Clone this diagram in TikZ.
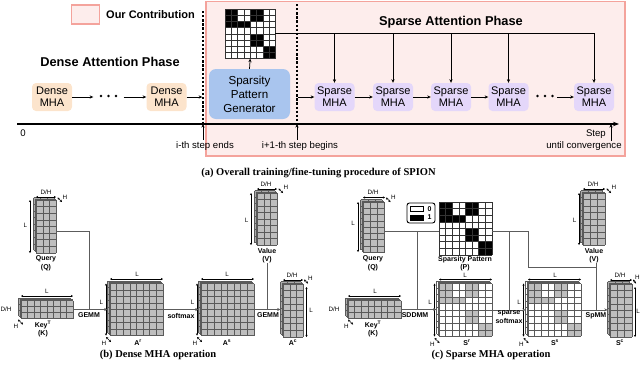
\documentclass[tikz,border=0pt]{standalone}
\usepackage{fontspec}
\setmainfont{Liberation Sans}
\newfontfamily\capfont{Liberation Serif}
\usetikzlibrary{arrows.meta}
\definecolor{pinkfill}{HTML}{FDEDEC}
\definecolor{pinkline}{HTML}{F4A39C}
\definecolor{densefill}{HTML}{FCE4CC}
\definecolor{sparsefill}{HTML}{E4D7FA}
\definecolor{genfill}{HTML}{A9C5EE}
\definecolor{cellgray}{HTML}{BEBEBE}
\definecolor{backgray}{HTML}{ACACAC}
\definecolor{gridgray}{HTML}{5A5A5A}
\definecolor{connc}{HTML}{5C5C5C}
\def\Pattern{0/0,1/0,4/0,5/0,0/1,1/1,4/1,5/1,0/2,1/2,2/2,3/2,4/4,5/4,4/5,5/5,6/6,7/6,6/7,7/7}
\newcommand\GridLines[7]{%
  \foreach \gi in {0,...,#3}{\draw[#7] ({#1+\gi*#5},{#2}) -- ({#1+\gi*#5},{#2+#4*#6});}
  \foreach \gj in {0,...,#4}{\draw[#7] ({#1},{#2+\gj*#6}) -- ({#1+#3*#5},{#2+\gj*#6});}
}
\newcommand\MatCoords[7]{%
  \coordinate (#1-w) at ({#2},{#3+#5*#7/2});
  \coordinate (#1-e) at ({#2+#4*#6},{#3+#5*#7/2});
  \coordinate (#1-n) at ({#2+#4*#6/2},{#3});
  \coordinate (#1-s) at ({#2+#4*#6/2},{#3+#5*#7});
}
\newcommand\DenseMat[7]{%
  \foreach \k in {2,1}{%
    \fill[backgray] ({#2-1.2*\k},{#3-1.2*\k}) rectangle ++({#4*#6},{#5*#7});
    \GridLines{#2-1.2*\k}{#3-1.2*\k}{#4}{#5}{#6}{#7}{gridln}
  }
  \fill[cellgray] ({#2},{#3}) rectangle ++({#4*#6},{#5*#7});
  \GridLines{#2}{#3}{#4}{#5}{#6}{#7}{gridln}
  \MatCoords{#1}{#2}{#3}{#4}{#5}{#6}{#7}
}
\newcommand\SparseMat[7]{%
  \foreach \k in {2,1}{%
    \fill[white] ({#2-1.2*\k},{#3-1.2*\k}) rectangle ++({#4*#6},{#5*#7});
    \GridLines{#2-1.2*\k}{#3-1.2*\k}{#4}{#5}{#6}{#7}{gridln}
  }
  \fill[white] ({#2},{#3}) rectangle ++({#4*#6},{#5*#7});
  \foreach \pc/\pr in \Pattern {\fill[cellgray] ({#2+\pc*#6},{#3+\pr*#7}) rectangle ++(#6,#7);}
  \GridLines{#2}{#3}{#4}{#5}{#6}{#7}{gridln}
  \MatCoords{#1}{#2}{#3}{#4}{#5}{#6}{#7}
}
\newcommand\PatMat[7]{%
  \fill[white] ({#2},{#3}) rectangle ++({#4*#6},{#5*#7});
  \foreach \pc/\pr in \Pattern {\fill[black] ({#2+\pc*#6},{#3+\pr*#7}) rectangle ++(#6,#7);}
  \GridLines{#2}{#3}{#4}{#5}{#6}{#7}{patln}
  \MatCoords{#1}{#2}{#3}{#4}{#5}{#6}{#7}
}
\begin{document}
\begin{tikzpicture}[x=1pt,y=-1pt,
  gridln/.style={draw=gridgray,line width=0.35pt},
  patln/.style={draw=black!80,line width=0.45pt},
  phasebox/.style={rounded corners=4pt,minimum width=40pt,minimum height=28pt,align=center,inner sep=0pt,font=\fontsize{11}{12.3}\selectfont},
  densebox/.style={phasebox,fill=densefill},
  sparsebox/.style={phasebox,fill=sparsefill},
  genbox/.style={rounded corners=7pt,minimum width=81pt,minimum height=50pt,align=center,inner sep=0pt,fill=genfill,font=\fontsize{11.6}{14}\selectfont},
  flow/.style={-{Stealth[length=3.6pt,width=3.2pt]},line width=0.75pt},
  phaseline/.style={line width=1.4pt,dash pattern=on 2.3pt off 1.8pt},
  axisln/.style={line width=1.3pt,-{Stealth[length=6pt,width=4.5pt]}},
  steplbl/.style={font=\fontsize{9.6}{11}\selectfont,inner sep=0pt},
  phasetitle/.style={font=\bfseries\fontsize{12.8}{14}\selectfont,inner sep=0pt},
  lbl/.style={font=\fontsize{6.3}{7}\selectfont,inner sep=0pt},
  blbl/.style={font=\bfseries\fontsize{7}{8.5}\selectfont,inner sep=0pt,align=center},
  dim/.style={{Stealth[length=2.2pt,width=2.2pt]}-{Stealth[length=2.2pt,width=2.2pt]},line width=0.5pt},
  conn/.style={draw=connc,line width=0.8pt},
  connarrow/.style={conn,-{Stealth[length=3.4pt,width=3pt]},shorten >=2.4pt},
  captxt/.style={font=\capfont\bfseries\fontsize{10.5}{12}\selectfont,inner sep=0pt}]
\useasboundingbox (0,0) rectangle (640,370);
% ---------- (a) ----------
\fill[pinkfill,draw=pinkline,line width=1.6pt] (206,1.5) rectangle (625,156);
\node[draw=pinkline,fill=pinkfill,line width=1.6pt,minimum width=28pt,minimum height=18.5pt,inner sep=0pt] (legbox) at (85.5,14.5) {};
\node[font=\bfseries\fontsize{11}{13}\selectfont,anchor=west,inner sep=0pt] (legtext) at (106,15) {Our Contribution};
\node[phasetitle] (dtitle) at (110,62) {Dense Attention Phase};
\node[phasetitle] (stitle) at (451,22) {Sparse Attention Phase};
\draw[phaseline] (203,11) -- (203,124);
\draw[phaseline] (297,4) -- (297,124);
\coordinate (ax0) at (17,124);
\coordinate (ax1) at (619,124);
\draw[axisln] (ax0) -- (ax1);
\node[steplbl] (zero) at (23,133) {0};
\node[steplbl] (iend) at (205,146) {i-th step ends};
\node[steplbl] (ibeg) at (300,146) {i+1-th step begins};
\node[steplbl,anchor=east] (steptxt) at (606,134.5) {Step};
\node[steplbl] (conv) at (584,146) {until convergence};
\coordinate (up1) at (203,140);
\coordinate (up2) at (297,140);
\coordinate (up3) at (611,141);
\draw[flow] (up1) -- (up1 |- ax0);
\draw[flow] (up2) -- (up2 |- ax0);
\draw[flow] (up3) -- (up3 |- ax0);
\node[densebox] (d1) at (52,97) {Dense\\MHA};
\node[densebox] (d2) at (166.5,97) {Dense\\MHA};
\node[minimum width=30pt,minimum height=6pt,inner sep=0pt] (dots1) at (108.5,96) {};
\foreach \dx in {-7.5,0,7.5}{\fill ([xshift=\dx pt]dots1.center) circle (1.4);}
\draw[flow] (d1.east) -- (dots1.west |- d1.east);
\draw[flow] (dots1.east |- d2.west) -- (d2.west);
\coordinate (cut1) at (202.3,97);
\draw[flow] (d2.east) -- (cut1);
\node[genbox] (gen) at (249.5,94) {Sparsity\\Pattern\\Generator};
\PatMat{tp}{225}{9}{8}{8}{6.3}{6.2}
\draw[flow] (gen.north) -- (tp-s);
\node[sparsebox] (s1) at (334.5,97) {Sparse\\MHA};
\node[sparsebox] (s2) at (393,97) {Sparse\\MHA};
\node[sparsebox] (s3) at (451,97) {Sparse\\MHA};
\node[sparsebox] (s4) at (508.5,97) {Sparse\\MHA};
\node[sparsebox] (s5) at (594,97) {Sparse\\MHA};
\node[minimum width=24pt,minimum height=6pt,inner sep=0pt] (dots2) at (545,96) {};
\foreach \dx in {-7.5,0,7.5}{\fill ([xshift=\dx pt]dots2.center) circle (1.4);}
\coordinate (cut2) at (298,97);
\draw[flow] (cut2) -- (s1.west);
\draw[flow] (s1) -- (s2);
\draw[flow] (s2) -- (s3);
\draw[flow] (s3) -- (s4);
\draw[flow] (dots2.east |- s5.west) -- (s5.west);
\coordinate (tpr) at (275.4,33);
\draw[flow] (tpr) -| (s5.north);
\foreach \s in {s1,s2,s3,s4}{\draw[flow] (\s |- tpr) -- (\s.north);}
\node[captxt] (capa) at (318.5,172.5) {(a) Overall training/fine-tuning procedure of SPION};
% ---------- (b) ----------
\DenseMat{Qb}{36}{200}{3}{8}{6.7}{6.6}
\draw[dim] (36,197) -- (56,197); \node[lbl] (Qbdh) at (46,192.5) {D/H};
\draw[dim] (57.5,197.5) -- (62,202); \node[lbl] (Qbh) at (65,197) {H};
\draw[dim] (30,200) -- (30,253); \node[lbl] (Qbl) at (25.5,225) {L};
\node[blbl] (Qbname) at (46,259) {Query}; \node[blbl] (Qblab) at (46,268) {(Q)};
\DenseMat{Kb}{21}{300.5}{8}{3}{6.5}{6}
\draw[dim] (21,296) -- (73,296); \node[lbl] (Kbl) at (47,291) {L};
\node[lbl] (Kbdh) at (6,309.5) {D/H};
\draw[dim] (18,319.5) -- (23,324.5); \node[lbl] (Kbh) at (16,326) {H};
\node[blbl] (Kbname) at (43,325) {Key\textsuperscript{T}}; \node[blbl] (Kblab) at (43,333.5) {(K)};
\DenseMat{Arb}{110}{283.5}{8}{8}{6.6}{6.5}
\draw[dim] (110,279) -- (163,279); \node[lbl] (Arbl1) at (137,274.5) {L};
\draw[dim] (106,283.5) -- (106,335.5); \node[lbl] (Arbl2) at (101.5,302) {L};
\draw[dim] (106,337) -- (111,342); \node[lbl] (Arbh) at (104,343.5) {H};
\node[blbl] (Arbname) at (138,343) {A\textsuperscript{r}};
\DenseMat{Asb}{201}{283.5}{8}{8}{6.6}{6.5}
\draw[dim] (201,279) -- (254,279); \node[lbl] (Asbl1) at (227,274.5) {L};
\draw[dim] (197,283.5) -- (197,335.5); \node[lbl] (Asbl2) at (192.5,302) {L};
\draw[dim] (197,337) -- (202,342); \node[lbl] (Asbh) at (195,343.5) {H};
\node[blbl] (Asbname) at (227,343) {A\textsuperscript{s}};
\DenseMat{Vb}{257}{193}{3}{8}{6.7}{6.5}
\draw[dim] (257,189) -- (277,189); \node[lbl] (Vbdh) at (266,184) {D/H};
\draw[dim] (278.5,188.5) -- (283,193); \node[lbl] (Vbh) at (286,187.5) {H};
\draw[dim] (251,193) -- (251,245); \node[lbl] (Vbl) at (246.5,220) {L};
\node[blbl] (Vbname) at (267,251) {Value}; \node[blbl] (Vblab) at (267,260) {(V)};
\DenseMat{Acb}{283}{284}{3}{8}{6.7}{6.6}
\draw[dim] (283,280) -- (303,280); \node[lbl] (Acbdh) at (292,275.5) {D/H};
\draw[dim] (304,279.5) -- (308,283.5); \node[lbl] (Acbh) at (310.5,278) {H};
\draw[dim] (306.5,287) -- (306.5,337); \node[lbl] (Acbl) at (311,310) {L};
\node[blbl] (Acbname) at (293,343) {A\textsuperscript{c}};
\coordinate (jq) at (89,231);
\draw[conn] (Qb-e |- jq) -- (jq) -- (jq |- Kb-e);
\draw[connarrow] (Kb-e) -- (Kb-e -| Arb-w);
\node[blbl] (gemm1) at (89,315.5) {GEMM};
\draw[connarrow] (Arb-e) -- (Asb-w);
\node[blbl] (smax) at (181,315.5) {softmax};
\draw[connarrow] (Asb-e) -- (Asb-e -| Acb-w);
\node[blbl] (gemm2) at (268,315.5) {GEMM};
\draw[conn] (Vblab.south) -- (Vblab.south |- Asb-e);
\node[captxt] (capb) at (158,355) {(b) Dense MHA operation};
% ---------- (c) ----------
\DenseMat{Qc}{363}{202}{3}{8}{7.2}{6.25}
\draw[dim] (363,197.5) -- (385,197.5); \node[lbl] (Qcdh) at (373,192.5) {D/H};
\draw[dim] (386,197.5) -- (390.5,202); \node[lbl] (Qch) at (393.5,197) {H};
\draw[dim] (358,202) -- (358,252); \node[lbl] (Qcl) at (353,223) {L};
\node[blbl] (Qcname) at (373,259) {Query}; \node[blbl] (Qclab) at (373,268) {(Q)};
\node[draw,rounded corners=2.5pt,line width=0.9pt,minimum width=28pt,minimum height=20pt,inner sep=0pt] (leg2) at (421,213) {};
\draw[line width=0.7pt,fill=white] (410.5,206.5) rectangle (423.5,211.5);
\draw[line width=0.7pt,fill=black] (410.5,215) rectangle (423.5,220);
\node[blbl] (leg0) at (429.5,209) {0};
\node[blbl] (leg1) at (429.5,217.5) {1};
\PatMat{Pc}{439}{202}{8}{8}{6.6}{6.6}
\node[blbl] (Pcname) at (465,260) {Sparsity Pattern}; \node[blbl] (Pclab) at (465,268) {(P)};
\DenseMat{Kc}{348}{300.5}{8}{3}{6.6}{6}
\draw[dim] (348,296) -- (401,296); \node[lbl] (Kcl) at (375,291) {L};
\node[lbl] (Kcdh) at (334,309.5) {D/H};
\draw[dim] (348,319.5) -- (353,324.5); \node[lbl] (Kch) at (346.5,326) {H};
\node[blbl] (Kcname) at (373,325) {Key\textsuperscript{T}}; \node[blbl] (Kclab) at (373,333.5) {(K)};
\SparseMat{Src}{439}{283.5}{8}{8}{6.6}{6.6}
\draw[dim] (439,279.5) -- (492,279.5); \node[lbl] (Srcl1) at (465,275) {L};
\draw[dim] (434.5,283.5) -- (434.5,336.5); \node[lbl] (Srcl2) at (430,302) {L};
\draw[dim] (434.5,338) -- (439.5,343); \node[lbl] (Srch) at (432.5,344) {H};
\node[blbl] (Srcname) at (467,343) {S\textsuperscript{r}};
\SparseMat{Ssc}{528}{283.5}{8}{8}{6.6}{6.6}
\draw[dim] (528,279.5) -- (581,279.5); \node[lbl] (Sscl1) at (555,275) {L};
\draw[dim] (523.5,283.5) -- (523.5,336.5); \node[lbl] (Sscl2) at (519,302) {L};
\draw[dim] (523.5,338) -- (528.5,343); \node[lbl] (Ssch) at (521.5,344) {H};
\node[blbl] (Sscname) at (555,343) {S\textsuperscript{s}};
\DenseMat{Vc}{583}{193}{3}{8}{7.3}{6.5}
\draw[dim] (583,189) -- (605,189); \node[lbl] (Vcdh) at (593,184) {D/H};
\draw[dim] (606.5,188.5) -- (611,193); \node[lbl] (Vch) at (614,187.5) {H};
\draw[dim] (579,193) -- (579,245); \node[lbl] (Vcl) at (574.5,220) {L};
\node[blbl] (Vcname) at (594,251) {Value}; \node[blbl] (Vclab) at (594,260) {(V)};
\DenseMat{Scc}{610}{284}{3}{8}{7.3}{6.6}
\draw[dim] (610,280) -- (632,280); \node[lbl] (Sccdh) at (620,275.5) {D/H};
\draw[dim] (633,279.5) -- (636,283.5); \node[lbl] (Scch) at (637.5,277.5) {H};
\draw[dim] (635,287) -- (635,337); \node[lbl] (Sccl) at (638,311) {L};
\node[blbl] (Sccname) at (620,343) {S\textsuperscript{c}};
\coordinate (jq2) at (417,231);
\draw[conn] (Qc-e |- jq2) -- (Pc-w |- jq2);
\draw[conn] (jq2) -- (jq2 |- Kc-e);
\draw[connarrow] (Kc-e) -- (Kc-e -| Src-w);
\node[blbl] (sddmm) at (415,315.5) {SDDMM};
\coordinate (jp) at (509,231);
\coordinate (bend1) at (528,231);
\coordinate (bend2) at (528,267);
\coordinate (jv) at (596,267);
\draw[conn] (Pc-e |- jp) -- (bend1) -- (bend2) -- (jv);
\draw[conn] (jp) -- (jp |- Src-e);
\draw[connarrow] (Src-e) -- (Ssc-w);
\node[blbl,anchor=north,font=\bfseries\fontsize{7}{8.3}\selectfont] (ssmax) at (509,311) {sparse\\softmax};
\draw[conn] (jv |- Vclab.south) -- (jv |- Ssc-e);
\draw[connarrow] (Ssc-e) -- (Ssc-e -| Scc-w);
\node[blbl] (spmm) at (596,315.5) {SpMM};
\node[captxt] (capc) at (491,355) {(c) Sparse MHA operation};
\end{tikzpicture}
\end{document}
